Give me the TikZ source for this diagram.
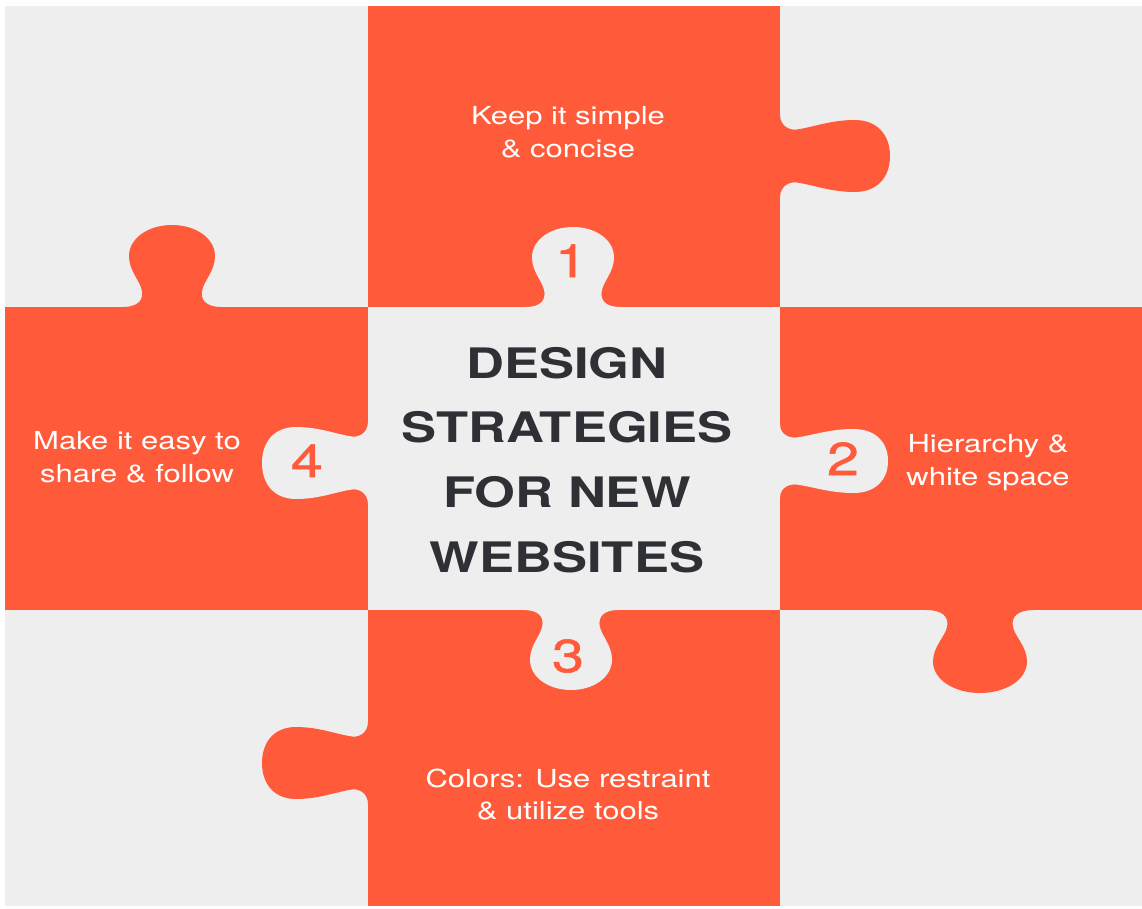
\documentclass[tikz,border=0pt]{standalone}
\usepackage{fontspec}
\setmainfont{TeX Gyre Heros}[FakeStretch=1.25]
\newfontfamily\numfont{TeX Gyre Heros}[FakeStretch=1.25,FakeBold=1.2]
\definecolor{org}{HTML}{FF5B3B}
\definecolor{pale}{HTML}{EEEEEE}
\definecolor{ink}{HTML}{2F3035}
% vertical tab: colour, centre x, base y, direction (+1 down, -1 up), half width, depth
\newcommand\vtab[6]{%
\begin{scope}[shift={(#2,#3)},xscale=#5,yscale=#4*#6]
\fill[#1] (-1.15,0) .. controls (-0.8,0) and (-0.66,0.08) .. (-0.7,0.2)
 .. controls (-0.74,0.32) and (-1,0.44) .. (-1,0.62)
 .. controls (-1,0.84) and (-0.55,1) .. (0,1)
 .. controls (0.55,1) and (1,0.84) .. (1,0.62)
 .. controls (1,0.44) and (0.74,0.32) .. (0.7,0.2)
 .. controls (0.66,0.08) and (0.8,0) .. (1.15,0)
 -- (1.15,-0.06) -- (-1.15,-0.06) -- cycle;
\end{scope}}
% horizontal tab: colour, base x, centre y, direction (+1 right, -1 left), half height, depth
\newcommand\htab[6]{%
\begin{scope}[shift={(#2,#3)},xscale=#4*#6,yscale=#5]
\fill[#1] (0,-1.15) .. controls (0,-0.8) and (0.1,-0.7) .. (0.16,-0.74)
 .. controls (0.3,-0.8) and (0.46,-1) .. (0.68,-1)
 .. controls (0.88,-1) and (1,-0.6) .. (1,0)
 .. controls (1,0.6) and (0.88,1) .. (0.68,1)
 .. controls (0.46,1) and (0.3,0.8) .. (0.16,0.74)
 .. controls (0.1,0.7) and (0,0.8) .. (0,1.15)
 -- (-0.06,1.15) -- (-0.06,-1.15) -- cycle;
\end{scope}}
\tikzset{
  body/.style={text=white,font=\fontsize{24.8}{30}\selectfont,anchor=base,inner sep=0pt},
  title/.style={text=ink,font=\fontsize{42}{50}\selectfont\bfseries,anchor=base,inner sep=0pt},
  num/.style={text=org,font=\numfont\fontsize{46}{50}\selectfont,anchor=base,inner sep=0pt}
}
\begin{document}
\begin{tikzpicture}[x=1pt,y=-1pt]
\useasboundingbox (0,0) rectangle (1142,909);
\fill[white] (0,0) rectangle (1142,909);
\fill[pale] (5,6) rectangle (1142,906);
% orange pieces
\fill[org] (368,6) rectangle (780,307);
\fill[org] (5,307) rectangle (368,610);
\fill[org] (780,307) rectangle (1142,610);
\fill[org] (368,610) rectangle (780,906);
% orange tabs
\vtab{org}{172}{307}{-1}{43}{82}
\htab{org}{780}{156}{1}{36}{110}
\vtab{org}{980}{610}{1}{47}{83}
\htab{org}{368}{763}{-1}{36}{106}
% grey tabs
\vtab{pale}{573}{307}{-1}{41}{80}
\htab{pale}{780}{461}{1}{32}{108}
\vtab{pale}{571}{610}{1}{41}{80}
\htab{pale}{368}{463}{-1}{36}{106}
% numbers
\node[num] (n1) at (571,277) {1};
\node[num] (n2) at (843,475) {2};
\node[num] (n3) at (568,672) {3};
\node[num] (n4) at (307,477) {4};
% title
\node[title] (h1) at (567,378) {DESIGN};
\node[title] (h2) at (567,442) {STRATEGIES};
\node[title] (h3) at (567,507) {FOR NEW};
\node[title] (h4) at (567,572) {WEBSITES};
% texts
\node[body] (a1) at (568,125) {Keep it simple};
\node[body] (a2) at (568,158) {\& concise};
\node[body] (b1) at (988,452) {Hierarchy \&};
\node[body] (b2) at (988,485) {white space};
\node[body] (c1) at (568,787) {Colors: Use restraint};
\node[body] (c2) at (568,819) {\& utilize tools};
\node[body] (d1) at (137,449) {Make it easy to};
\node[body] (d2) at (137,482) {share \& follow};
\end{tikzpicture}
\end{document}
